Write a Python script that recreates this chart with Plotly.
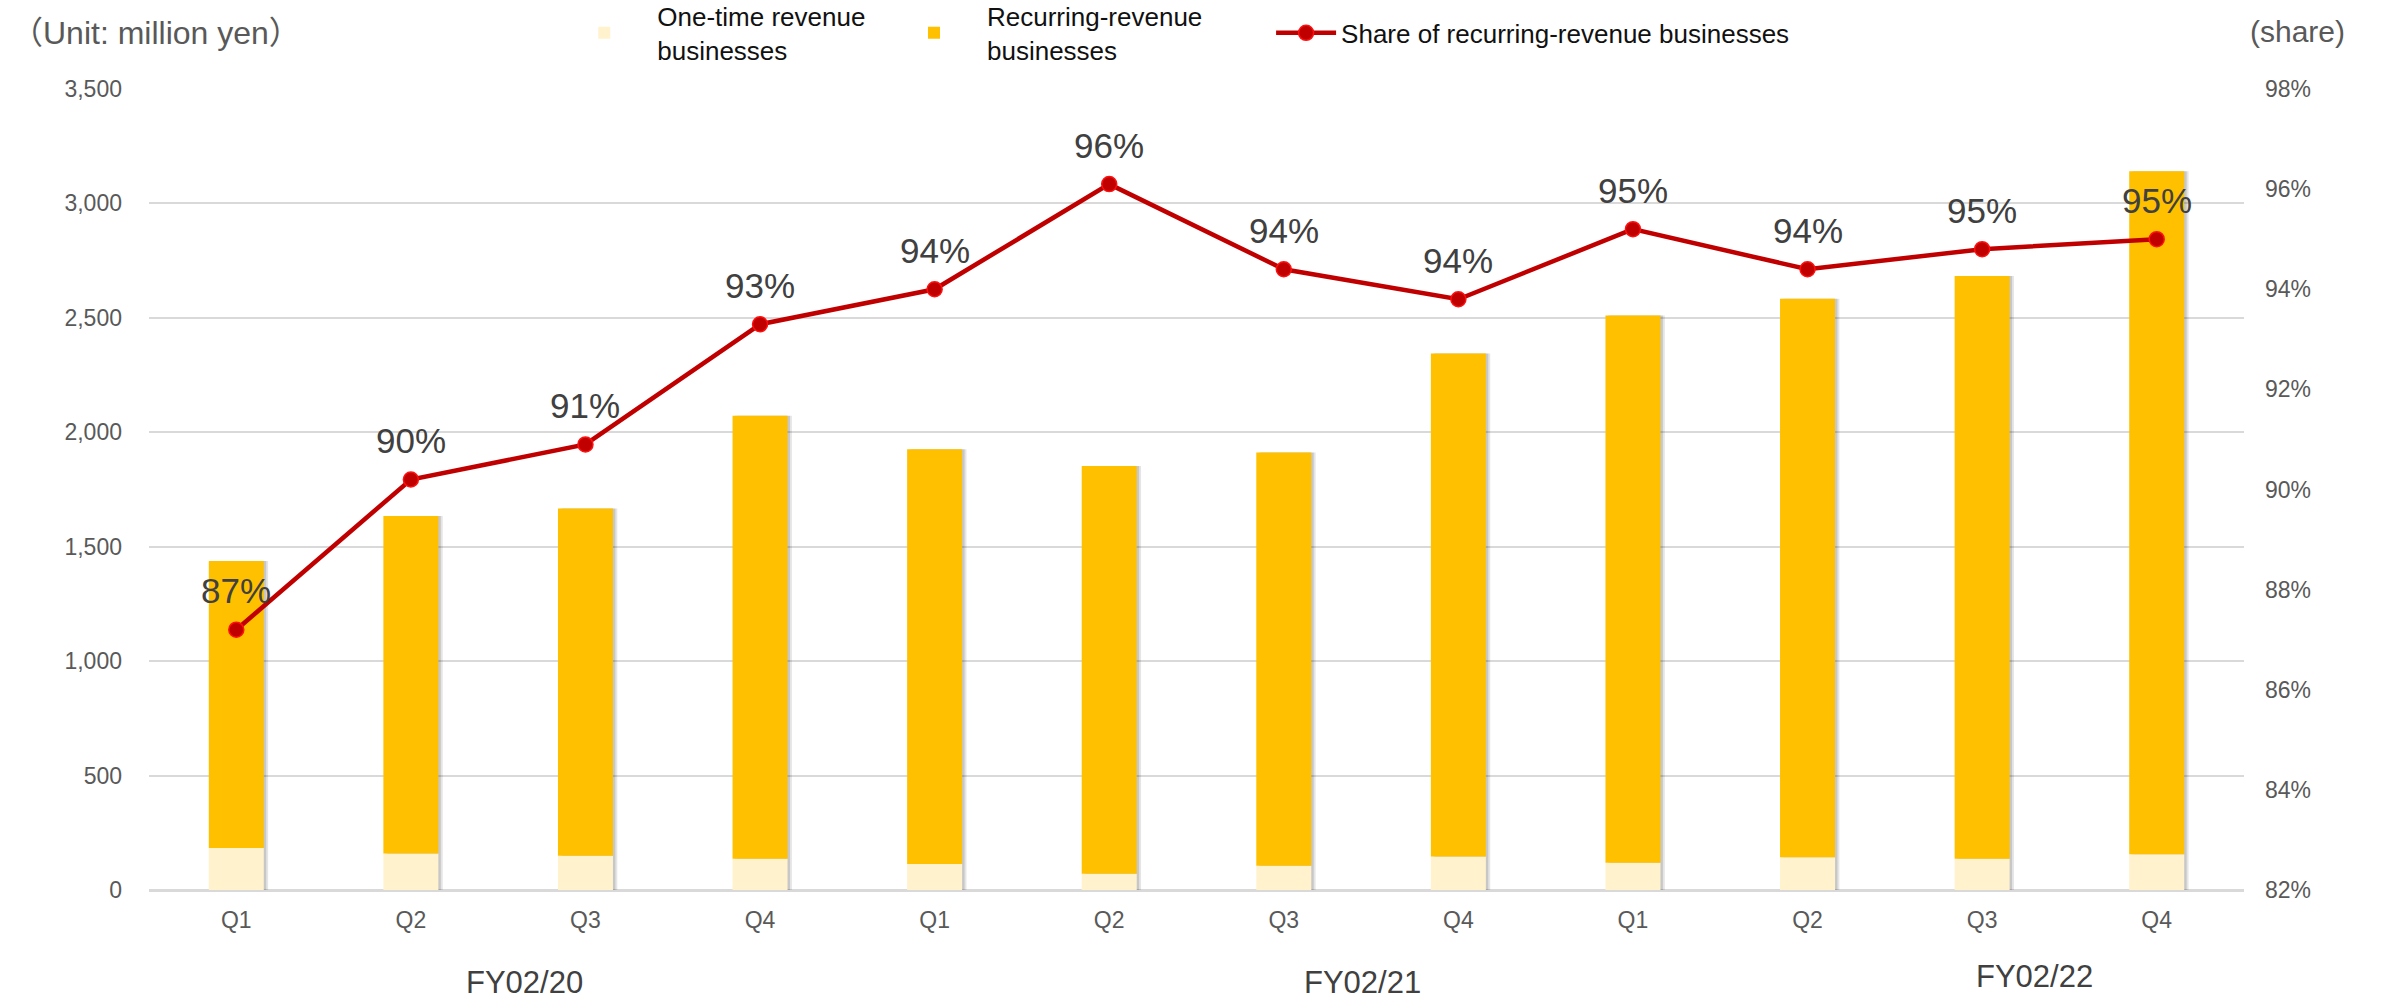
import plotly.graph_objects as go

quarters = ["Q1", "Q2", "Q3", "Q4", "Q1", "Q2", "Q3", "Q4", "Q1", "Q2", "Q3", "Q4"]
fiscal_years = ["FY02/20", "FY02/21", "FY02/22"]
one_time = [184, 159, 150, 137, 114, 71, 106, 146, 119, 143, 137, 156]
recurring = [1254, 1475, 1517, 1935, 1812, 1782, 1806, 2198, 2391, 2440, 2546, 2985]
share = [87.2, 90.2, 90.9, 93.3, 94.0, 96.1, 94.4, 93.8, 95.2, 94.4, 94.8, 95.0]
share_labels = ["87%", "90%", "91%", "93%", "94%", "96%", "94%", "94%", "95%", "94%", "95%", "95%"]

x = list(range(len(quarters)))
totals = [a + b for a, b in zip(one_time, recurring)]

FONT = "Arial, Liberation Sans, Noto Sans CJK JP, sans-serif"
BAR_W = 0.315

fig = go.Figure()
# soft drop shadow behind bars
fig.add_trace(go.Bar(x=x, y=totals, width=BAR_W, offset=-BAR_W / 2 + 0.025,
                     marker=dict(color="rgba(0,0,0,0.10)", line=dict(width=0)),
                     showlegend=False, hoverinfo="skip"))
fig.add_trace(go.Bar(x=x, y=totals, width=BAR_W, offset=-BAR_W / 2 + 0.014,
                     marker=dict(color="rgba(0,0,0,0.13)", line=dict(width=0)),
                     showlegend=False, hoverinfo="skip"))
fig.add_trace(go.Bar(x=x, y=one_time, width=BAR_W, name="One-time revenue<br>businesses",
                     marker=dict(color="#FFF2CC", line=dict(width=0)), legend="legend"))
fig.add_trace(go.Bar(x=x, y=recurring, base=one_time, width=BAR_W,
                     name="Recurring-revenue<br>businesses",
                     marker=dict(color="#FFC000", line=dict(width=0)), legend="legend2"))
fig.add_trace(go.Scatter(x=x, y=share, yaxis="y2", mode="lines+markers",
                         name="Share of recurring-revenue businesses",
                         line=dict(color="#C00000", width=4.5),
                         marker=dict(color="#C00000", size=15,
                                     line=dict(color="#FF1010", width=1.5)),
                         legend="legend3"))

annotations = []
for xi, s, lab in zip(x, share, share_labels):
    annotations.append(dict(x=xi, y=s, xref="x", yref="y2", text=lab, showarrow=False,
                            yshift=39, font=dict(family=FONT, size=35, color="#404040")))

fy_pos = [1.65, 6.45, 10.3]
fy_y = [-0.14, -0.14, -0.1325]
for fy, px, py in zip(fiscal_years, fy_pos, fy_y):
    annotations.append(dict(x=px, y=py, xref="x", yref="paper", text=fy, showarrow=False,
                            yanchor="bottom", font=dict(family=FONT, size=31, color="#404040")))

annotations.append(dict(x=-0.067, y=1.070, xref="paper", yref="paper",
                        text="（Unit: million yen）", showarrow=False, xanchor="left",
                        yanchor="middle", font=dict(family=FONT, size=32, color="#595959")))
annotations.append(dict(x=1.049, y=1.072, xref="paper", yref="paper",
                        text="(share)", showarrow=False, xanchor="right",
                        yanchor="middle", font=dict(family=FONT, size=30, color="#595959")))

legend_common = dict(orientation="h", yanchor="middle", xanchor="left", y=1.07,
                     font=dict(family=FONT, size=26, color="#111111"),
                     bgcolor="rgba(0,0,0,0)")

fig.update_layout(
    width=2382, height=1004,
    margin=dict(l=149, r=138, t=89, b=114, autoexpand=False),
    paper_bgcolor="white", plot_bgcolor="white",
    barmode="overlay",
    font=dict(family=FONT, color="#595959"),
    showlegend=True,
    legend=dict(legend_common, x=0.192, itemwidth=96),
    legend2=dict(legend_common, x=0.3494, itemwidth=96),
    legend3=dict(legend_common, x=0.5356, itemwidth=60),
    xaxis=dict(range=[-0.5, 11.5], tickmode="array", tickvals=x, ticktext=quarters,
               showgrid=False, zeroline=False, showline=False, ticks="",
               tickfont=dict(family=FONT, size=23, color="#595959"), ticklabelstandoff=14),
    yaxis=dict(range=[0, 3500], dtick=500, tickformat=",", showgrid=True,
               gridcolor="#D9D9D9", gridwidth=2, zeroline=True, zerolinecolor="#D9D9D9",
               zerolinewidth=3, showline=False, ticks="",
               tickfont=dict(family=FONT, size=23, color="#595959"), ticklabelstandoff=26),
    yaxis2=dict(range=[82, 98], dtick=2, ticksuffix="%", overlaying="y", side="right",
                showgrid=False, zeroline=False, showline=False, ticks="",
                tickfont=dict(family=FONT, size=23, color="#595959"), ticklabelstandoff=20),
    annotations=annotations,
)

fig.write_html("out.html")
